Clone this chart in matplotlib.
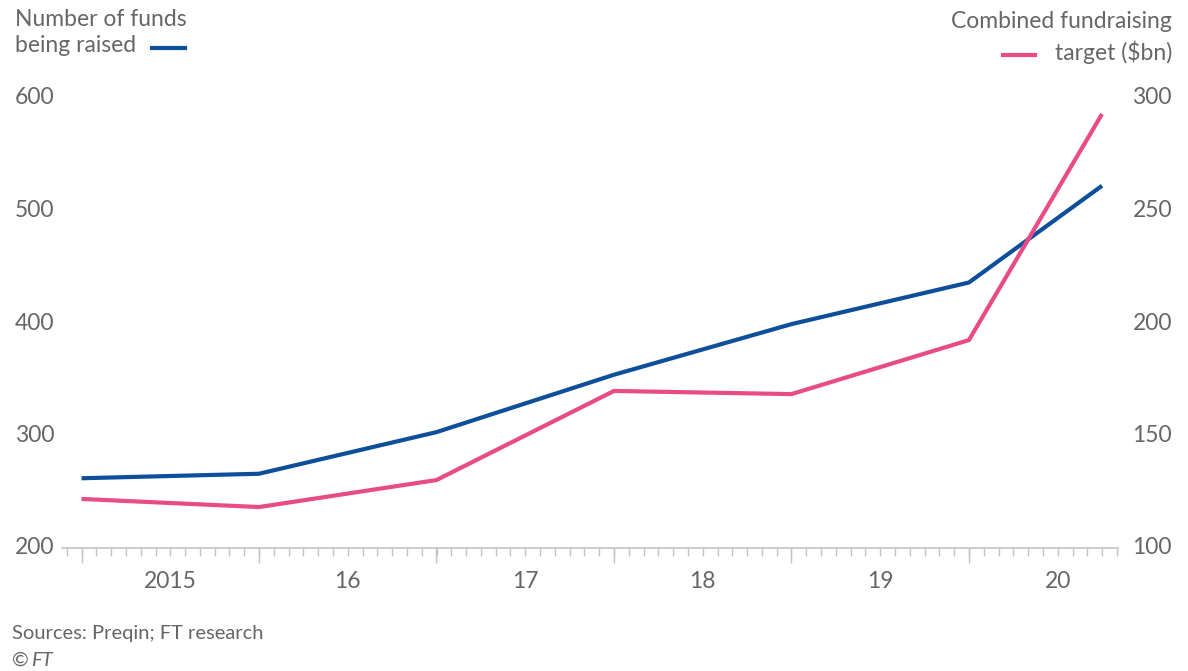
import numpy as np
from matplotlib import pyplot as plt
from matplotlib.ticker import FixedLocator, NullFormatter

plt.rcParams['font.family'] = ['Lato', 'DejaVu Sans']

# half-open years: each point sits at the start of a year, last one in Oct 2020
dates = [2015.0, 2016.0, 2017.0, 2018.0, 2019.0, 2020.0, 2020.75]
n_funds = [262, 266, 303, 354, 399, 436, 522]
target_bn = [121.8, 118.2, 130.2, 169.8, 168.4, 192.4, 292.9]

year_labels = ['2015', '16', '17', '18', '19', '20']
left_ticks = [200, 300, 400, 500, 600]
right_ticks = [100, 150, 200, 250, 300]

blue = '#0d4f9b'
pink = '#e94b84'
txt = '#666666'
axis_col = '#c4c4c4'
fs = 16.5

W, H = 1188, 671
fig = plt.figure(figsize=(W/100, H/100), dpi=100)
ax = fig.add_axes([62/W, 1-548/H, (1118-62)/W, (548-98)/H])
ax2 = ax.twinx()

ax.plot(dates, n_funds, color=blue, lw=3, solid_capstyle='butt', zorder=3)
ax2.plot(dates, target_bn, color=pink, lw=3, solid_capstyle='butt', zorder=2)

ax.set_xlim(2014.89, 2020.84)
ax.set_ylim(200, 600)
ax2.set_ylim(100, 300)

for a in (ax, ax2):
    for s in a.spines.values():
        s.set_visible(False)
ax.spines['bottom'].set_visible(True)
ax.spines['bottom'].set_color(axis_col)
ax.spines['bottom'].set_linewidth(1.2)

# year boundaries get long ticks, months get short ones
years = np.arange(2015, 2021)
months = np.arange(2014.917, 2020.84, 1/12)
ax.xaxis.set_major_locator(FixedLocator(years))
ax.xaxis.set_minor_locator(FixedLocator(months))
ax.xaxis.set_major_formatter(NullFormatter())
ax.tick_params(axis='x', which='major', length=11, width=1, color=axis_col)
ax.tick_params(axis='x', which='minor', length=6, width=1, color=axis_col)
for y, lab in zip(years, year_labels):
    ax.text(y + 0.5, -0.075, lab, transform=ax.get_xaxis_transform(),
            ha='center', va='center', fontsize=fs, color=txt)

ax.set_yticks(left_ticks)
ax.set_yticklabels([])
ax.tick_params(axis='y', length=0)
ax2.set_yticks(right_ticks)
ax2.set_yticklabels([])
ax2.tick_params(axis='y', length=0)
for v in left_ticks:
    ax.text(15/W, 1-(548-(v-200)*1.125)/H, str(v), transform=fig.transFigure,
            ha='left', va='center', fontsize=fs, color=txt)
for v in right_ticks:
    ax.text(1172/W, 1-(548-(v-100)*2.25)/H, str(v), transform=fig.transFigure,
            ha='right', va='center', fontsize=fs, color=txt)

# legend-style headers
fig.text(15/W, 1-20/H, 'Number of funds', ha='left', va='center', fontsize=fs, color=txt)
fig.text(15/W, 1-46/H, 'being raised', ha='left', va='center', fontsize=fs, color=txt)
fig.add_artist(plt.Line2D([152/W, 185/W], [1-48/H, 1-48/H], color=blue, lw=3))

fig.text(1172/W, 1-22/H, 'Combined fundraising', ha='right', va='center', fontsize=fs, color=txt)
fig.text(1172/W, 1-52/H, 'target ($bn)', ha='right', va='center', fontsize=fs, color=txt)
fig.add_artist(plt.Line2D([1003/W, 1035/W], [1-55/H, 1-55/H], color=pink, lw=3))

fig.text(12/W, 1-634/H, 'Sources: Preqin; FT research', ha='left', va='center', fontsize=14.5, color=txt)
fig.text(12/W, 1-660/H, '\u00a9', ha='left', va='center', fontsize=14.5, color=txt)
fig.text(31/W, 1-660/H, 'FT', ha='left', va='center', fontsize=14.5, color=txt, style='italic')

fig.savefig('out.png', dpi=100, facecolor='white')
